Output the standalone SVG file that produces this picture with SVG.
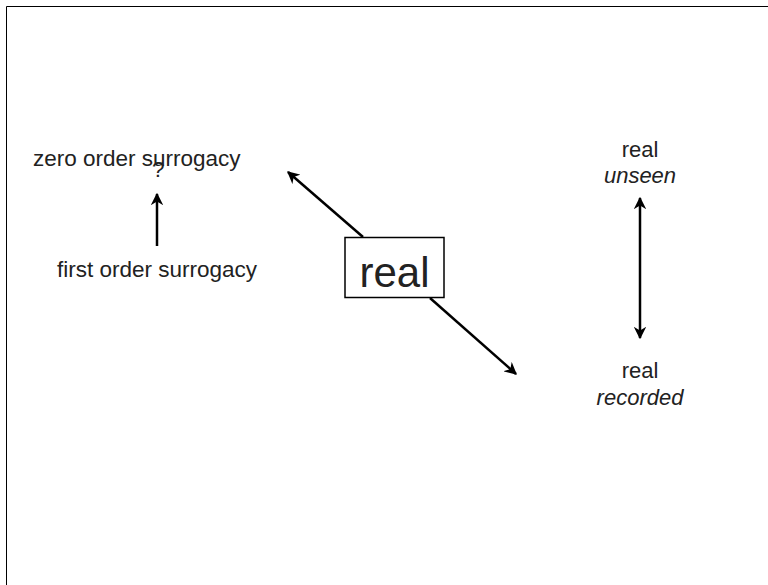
<svg xmlns="http://www.w3.org/2000/svg" width="768" height="585" viewBox="0 0 768 585">
<defs>
<style>
text{font-family:"Liberation Sans",Arial,sans-serif;fill:#222;}
.lbl{font-size:22.5px;}
.rl{font-size:22px;}
.it{font-style:italic;}
.big{font-size:42px;}
.conn{stroke:#000;stroke-width:2.5;fill:none;}
</style>
<marker id="ah" viewBox="0 0 10 10" refX="9" refY="5" markerWidth="5" markerHeight="5" orient="auto-start-reverse" markerUnits="strokeWidth">
<path d="M0,0 L10,5 L0,10 L3,5 Z" fill="#000"/>
</marker>
</defs>
<rect x="0" y="0" width="768" height="585" fill="#fff"/>
<path d="M6.5,585 V6.5 H768" stroke="#000" stroke-width="1" fill="none"/>
<g id="connectors">
<line class="conn" x1="157" y1="246" x2="157" y2="194" marker-end="url(#ah)"/>
<line class="conn" x1="363" y1="237" x2="288" y2="172" marker-end="url(#ah)"/>
<line class="conn" x1="430" y1="298" x2="516" y2="374" marker-end="url(#ah)"/>
<line class="conn" x1="640" y1="198" x2="640" y2="338" marker-start="url(#ah)" marker-end="url(#ah)"/>
</g>
<g id="zero-order">
<text class="lbl" x="33" y="166">zero order surrogacy</text>
<text class="lbl" x="152" y="177">?</text>
</g>
<g id="first-order">
<text class="lbl" x="57" y="277">first order surrogacy</text>
</g>
<g id="real-box">
<rect x="345" y="237.5" width="99" height="60" fill="#fff" stroke="#000" stroke-width="1.5"/>
<text class="big" x="394.5" y="287" text-anchor="middle">real</text>
</g>
<g id="real-unseen">
<text class="rl" x="640" y="157" text-anchor="middle">real</text>
<text class="rl it" x="640" y="183" text-anchor="middle">unseen</text>
</g>
<g id="real-recorded">
<text class="rl" x="640" y="378" text-anchor="middle">real</text>
<text class="rl it" x="640" y="405" text-anchor="middle">recorded</text>
</g>
</svg>
